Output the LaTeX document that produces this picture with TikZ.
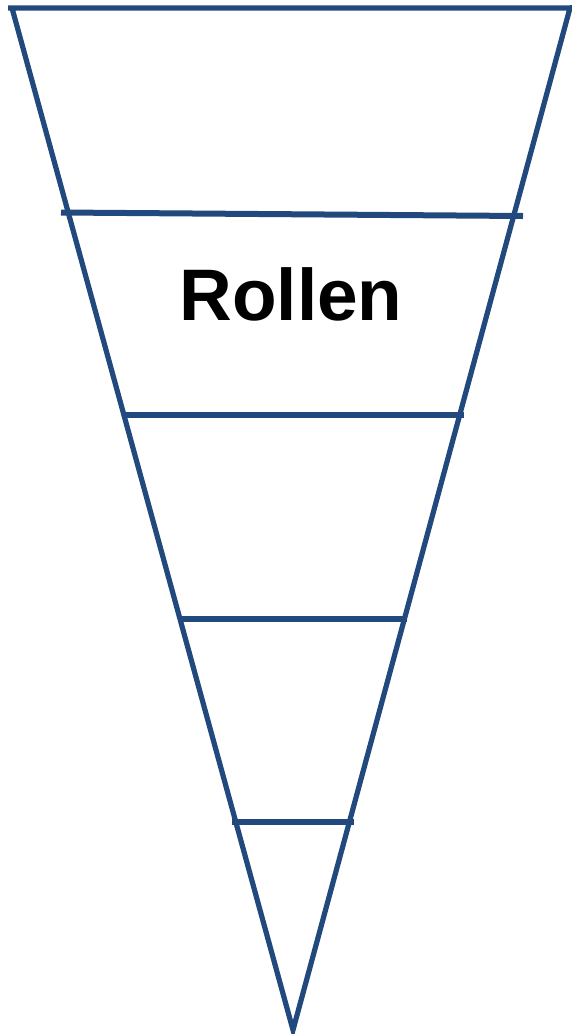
\documentclass[tikz,border=0pt]{standalone}
\usepackage{fontspec}
\setmainfont{Liberation Sans}
\usepackage{xcolor}
\usepackage{tikz}
\usetikzlibrary{calc}
\definecolor{funnelblue}{RGB}{33,73,125}

\begin{document}
\begin{tikzpicture}[x=1pt,y=-1pt]
\useasboundingbox (0,0) rectangle (572,1034);
% Funnel outline
\coordinate (tl) at (12,8);
\coordinate (tr) at (570,8);
\coordinate (tip) at (293,1030);
\draw[funnelblue, line width=5.2pt, line join=miter] (8,8) -- (tr) -- (tip) -- (tl) -- (8,8);
\draw[funnelblue, line width=5.2pt] (tr) -- (575,8);

% Layers
\draw[funnelblue, line width=6pt] (61,212.5) -- (523,216);
\draw[funnelblue, line width=6pt] (123,415) -- (464,415);
\draw[funnelblue, line width=6pt] (181,619) -- (407,619);
\draw[funnelblue, line width=6pt] (232,822) -- (354,822);

% Label
\node[font=\fontsize{73}{80}\selectfont\bfseries, anchor=base] (rollen) at (291,320) {Rollen};
\end{tikzpicture}
\end{document}
